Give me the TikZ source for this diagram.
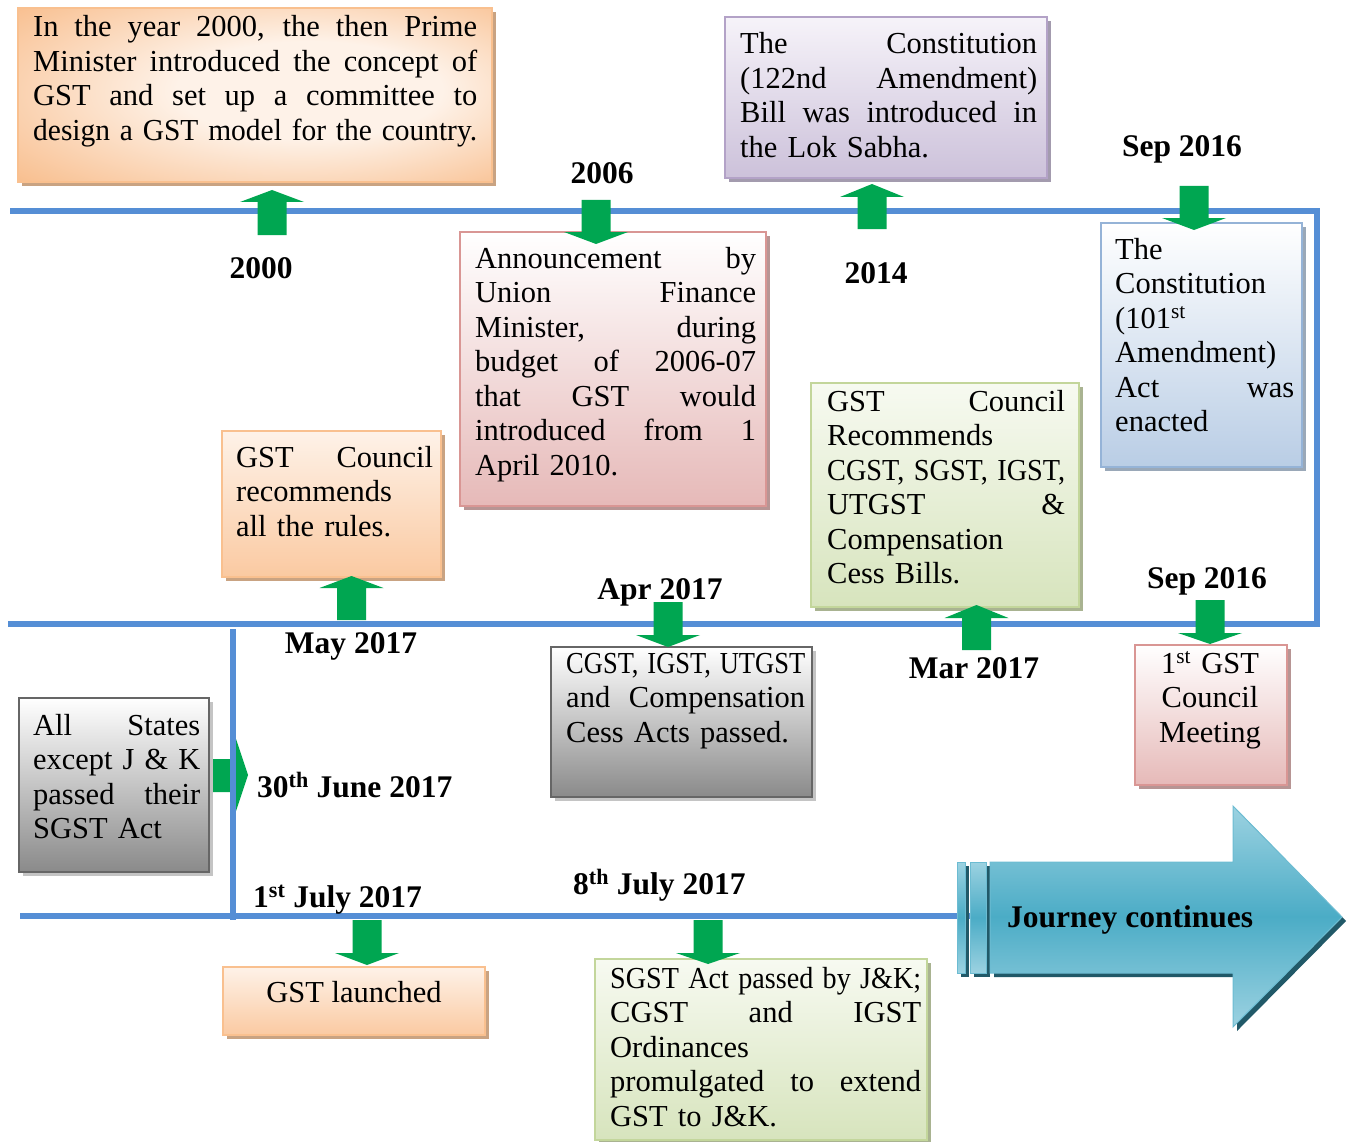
\documentclass[tikz,border=0pt]{standalone}
\usepackage{fontspec}
\usepackage{graphicx}
\setmainfont{Liberation Serif}
\usetikzlibrary{shadows}
\definecolor{tl}{HTML}{558ED5}
\definecolor{ga}{HTML}{00A651}
\definecolor{orA}{HTML}{F9BC8A}
\definecolor{orD}{HTML}{F7B47C}
\definecolor{orL}{HTML}{FEF2E8}
\definecolor{orB}{HTML}{F9C08F}
\definecolor{orS}{HTML}{C9A382}
\definecolor{pkA}{HTML}{E6B9B8}
\definecolor{pkB}{HTML}{D99694}
\definecolor{pkS}{HTML}{B79594}
\definecolor{puA}{HTML}{CCC1DA}
\definecolor{puL}{HTML}{F6F3F9}
\definecolor{puB}{HTML}{B3A2C7}
\definecolor{puS}{HTML}{A39BAE}
\definecolor{blA}{HTML}{B9CDE5}
\definecolor{blB}{HTML}{95B3D7}
\definecolor{blS}{HTML}{9AA8B8}
\definecolor{grA}{HTML}{D7E4BD}
\definecolor{grL}{HTML}{F7FAF1}
\definecolor{grB}{HTML}{C3D69B}
\definecolor{grS}{HTML}{A9B391}
\definecolor{gyA}{HTML}{8A8A8A}
\definecolor{gyB}{HTML}{666666}
\definecolor{gyS}{HTML}{C4C4C4}
\definecolor{jt}{HTML}{4BACC6}
\definecolor{jL}{HTML}{9CD2E1}
\definecolor{jB}{HTML}{6CBCD2}
\definecolor{jS}{HTML}{215968}
\pgfdeclareradialshading{orrad}{\pgfpoint{8bp}{2bp}}{color(0bp)=(orL); color(14bp)=(orL); color(42bp)=(orD); color(50bp)=(orD)}
\newsavebox\jlbox
\newcommand\jl[1]{\sbox\jlbox{#1}\ifdim\wd\jlbox>\hsize\resizebox{\hsize}{\height}{\usebox\jlbox}\else{\spaceskip=\fontdimen2\font plus 1fil\relax\makebox[\hsize][s]{#1}}\fi}
\newcommand\fl[1]{\sbox\jlbox{#1}\ifdim\wd\jlbox>\hsize\resizebox{\hsize}{\height}{\usebox\jlbox}\else\usebox\jlbox\fi}
\newcommand\garr[4]{\fill[ga] ({#1-14.5},#4) -- ({#1-14.5},#3) -- ({#1-32},#3) -- (#1,#2) -- ({#1+32},#3) -- ({#1+14.5},#3) -- ({#1+14.5},#4) -- cycle;}
\tikzset{
  boxbase/.style={draw, line width=2pt, anchor=north west, inner sep=0pt, outer sep=0pt},
  shad/.style={drop shadow={shadow xshift=4pt, shadow yshift=-4pt, fill=#1, opacity=1}},
  orbox/.style={boxbase, draw=orB, shading=orrad, shad=orS},
  orboxv/.style={boxbase, draw=orB, top color=orL, bottom color=orA!80, shad=orS},
  pkbox/.style={boxbase, draw=pkB, top color=white, bottom color=pkA, shad=pkS},
  pubox/.style={boxbase, draw=puB, top color=puL, bottom color=puA, shad=puS},
  blbox/.style={boxbase, draw=blB, top color=white, bottom color=blA, shad=blS},
  grbox/.style={boxbase, draw=grB, top color=grL, bottom color=grA, shad=grS},
  gybox/.style={boxbase, draw=gyB, top color=white, bottom color=gyA, shad=gyS},
  txt/.style={inner sep=0pt, anchor=base west, align=left, font=\fontsize{30.5}{34.5}\selectfont},
  ctxt/.style={inner sep=0pt, anchor=base, align=center, font=\fontsize{30.5}{34.5}\selectfont},
  lbl/.style={inner sep=0pt, anchor=base, font=\fontsize{31.5}{36}\selectfont\bfseries},
  lblw/.style={inner sep=0pt, anchor=base west, font=\fontsize{31.5}{36}\selectfont\bfseries},
  tline/.style={draw=tl, line width=6.5pt},
}
\begin{document}
\begin{tikzpicture}[x=1pt, y=-1pt]
\useasboundingbox (0,0) rectangle (1351,1142);
\fill[white] (0,0) rectangle (1351,1142);

% side arrow (behind the vertical line)
\fill[ga] (209,759) -- (236,759) -- (236,739) -- (248,775) -- (236,811) -- (236,792) -- (209,792) -- cycle;

% timeline
\coordinate (l1a) at (10,211);
\coordinate (l1b) at (1317,211);
\coordinate (l2a) at (1317,624);
\coordinate (l2b) at (8,624);
\coordinate (v1) at (233,629);
\coordinate (v2) at (233,920);
\coordinate (l3a) at (20,916);
\coordinate (l3b) at (992,916);
\draw[tline, line join=miter] (l1a) -- (l1b) -- (l2a) -- (l2b);
\draw[tline] (v1) -- (v2);
\draw[tline] (l3a) -- (l3b);

% boxes
\node[orbox, minimum width=474pt, minimum height=174pt] (b2000) at (18,8) {};
\node[txt, text width=444pt] (t2000) at (33,37) {\jl{In the year 2000, the then Prime}\\
\jl{Minister introduced the concept of}\\
\jl{GST and set up a committee to}\\
\jl{design a GST model for the country.}};

\node[pkbox, minimum width=306pt, minimum height=274pt] (b2006) at (460,232) {};
\node[txt, text width=281pt] (t2006) at (475,268) {\jl{Announcement by}\\ \jl{Union Finance}\\ \jl{Minister, during}\\ \jl{budget of 2006-07}\\ \jl{that GST would}\\ \jl{introduced from 1}\\ \fl{April 2010.}};

\node[pubox, minimum width=322pt, minimum height=161pt] (b2014) at (725,17) {};
\node[txt, text width=297pt] (t2014) at (740,54) {\jl{The Constitution}\\ \jl{(122nd Amendment)}\\ \jl{Bill was introduced in}\\ \fl{the Lok Sabha.}};

\node[blbox, minimum width=201pt, minimum height=244pt] (bsep1) at (1101,223) {};
\node[txt, text width=179pt] (tsep1) at (1115,259) {\fl{The}\\ \fl{Constitution}\\ \fl{(101\textsuperscript{st}}\\ \fl{Amendment)}\\ \jl{Act was}\\ \fl{enacted}};

\node[orboxv, minimum width=219pt, minimum height=146pt] (bmay) at (222,431) {};
\node[txt, text width=197pt] (tmay) at (236,467) {\jl{GST Council}\\ \fl{recommends}\\ \fl{all the rules.}};

\node[grbox, minimum width=268pt, minimum height=224pt] (bmar) at (811,383) {};
\node[txt, text width=238pt] (tmar) at (827,411) {\jl{GST Council}\\ \fl{Recommends}\\ \jl{CGST, SGST, IGST,}\\ \jl{UTGST \&}\\ \fl{Compensation}\\ \fl{Cess Bills.}};

\node[gybox, minimum width=261pt, minimum height=150pt] (bapr) at (551,647) {};
\node[txt, text width=239pt] (tapr) at (566,673) {\jl{CGST, IGST, UTGST}\\ \jl{and Compensation}\\ \fl{Cess Acts passed.}};

\node[pkbox, minimum width=152pt, minimum height=140pt] (bsep2) at (1135,645) {};
\node[ctxt, text width=140pt] (tsep2) at (1210,673) {1\textsuperscript{st} GST\\ Council\\ Meeting};

\node[gybox, minimum width=190pt, minimum height=174pt] (ball) at (19,698) {};
\node[txt, text width=167pt] (tall) at (33,735) {\jl{All States}\\ \jl{except J \& K}\\ \jl{passed their}\\ \fl{SGST Act}};

\node[orboxv, minimum width=262pt, minimum height=68pt] (blaunch) at (223,967) {};
\node[ctxt] (tlaunch) at (354,1002) {GST launched};

\node[grbox, minimum width=332pt, minimum height=181pt] (bsgst) at (595,959) {};
\node[txt, text width=311pt] (tsgst) at (610,988) {\jl{SGST Act passed by J\&K;}\\ \jl{CGST and IGST}\\ \fl{Ordinances}\\ \jl{promulgated to extend}\\ \fl{GST to J\&K.}};

% green arrows: x, tip, head base, shaft end
\garr{272}{190}{202}{235}
\garr{596}{244}{232}{200}
\garr{872}{184}{197}{229}
\garr{1194}{230}{218}{186}
\garr{351.5}{576}{588}{620}
\garr{976.5}{605}{618}{650}
\garr{668}{647}{635}{602}
\garr{1210}{644}{633}{600}
\garr{367}{965}{953}{920}
\garr{708}{964}{953}{920}

% labels
\node[lbl] (y2000) at (261,278) {2000};
\node[lbl] (y2006) at (602,184) {2006};
\node[lbl] (y2014) at (876,283) {2014};
\node[lbl] (ysep1) at (1182,157) {Sep 2016};
\node[lbl] (ymay) at (351,653) {May 2017};
\node[lbl] (yapr) at (660,599) {Apr 2017};
\node[lbl] (ymar) at (974,678) {Mar 2017};
\node[lbl] (ysep2) at (1207,588) {Sep 2016};
\node[lblw] (yjun) at (257,797) {30\textsuperscript{th} June 2017};
\node[lblw] (yjul1) at (253,907) {1\textsuperscript{st} July 2017};
\node[lblw] (yjul8) at (573,894) {8\textsuperscript{th} July 2017};

% journey continues arrow
\begin{scope}[shift={(4,4)}]
\fill[jS] (957,862) rectangle (965,973);
\fill[jS] (970,862) rectangle (986,973);
\fill[jS] (990,862) -- (1233,862) -- (1233,806) -- (1342,917) -- (1233,1027) -- (1233,973) -- (990,973) -- cycle;
\end{scope}
\draw[jB, line width=1pt, top color=jL, bottom color=jL, middle color=jt] (957,862) rectangle (965,973);
\draw[jB, line width=1pt, top color=jL, bottom color=jL, middle color=jt] (970,862) rectangle (986,973);
\draw[jB, line width=1pt, top color=jL, bottom color=jL, middle color=jt] (990,862) -- (1233,862) -- (1233,806) -- (1342,917) -- (1233,1027) -- (1233,973) -- (990,973) -- cycle;
\node[lblw] (jc) at (1007,927) {Journey continues};
\end{tikzpicture}
\end{document}
